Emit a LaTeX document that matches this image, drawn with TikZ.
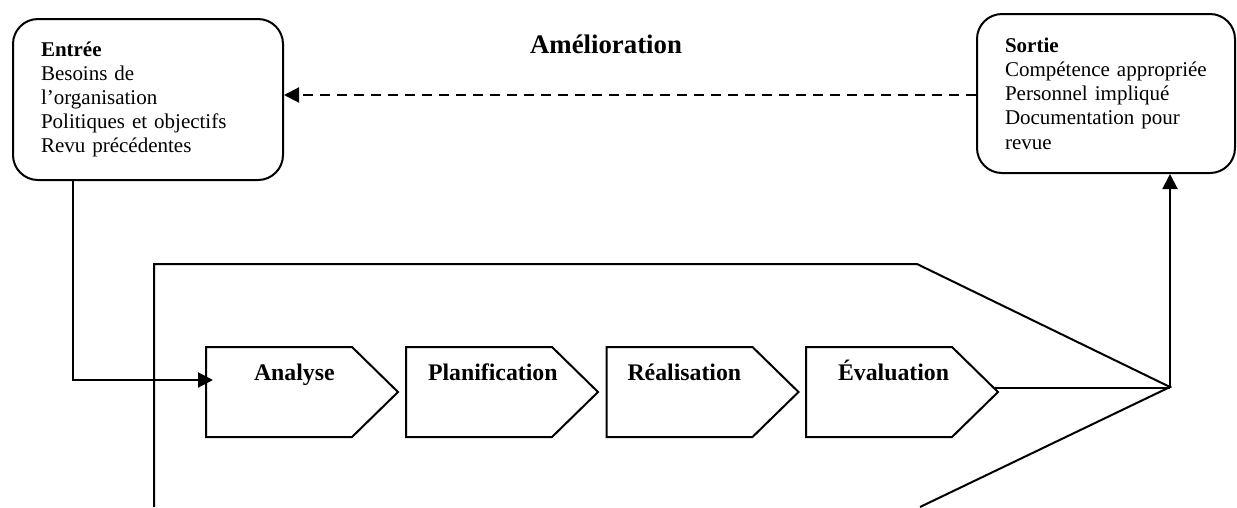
\documentclass[tikz,border=0pt]{standalone}
\usepackage{fontspec}
\setmainfont{Liberation Serif}
\usetikzlibrary{arrows.meta,calc}
\begin{document}
\begin{tikzpicture}[x=1pt,y=-1pt,line width=2pt,
  roundbox/.style={draw,rounded corners=25pt,align=left,
    font=\fontsize{21}{24.2}\selectfont,inner ysep=0pt},
  chevbox/.style={minimum width=192pt,minimum height=90pt,inner sep=0pt,outer sep=0pt},
  steplabel/.style={anchor=base west,inner sep=0pt,font=\fontsize{23.8}{26}\selectfont\bfseries},
  arrowtip/.style={-{Triangle[length=15pt,width=15pt]}}]
\useasboundingbox (0,0) rectangle (1237,507);

% input and output boxes
\node[roundbox,minimum width=270pt,minimum height=161pt,text width=214pt,inner xsep=28pt]
  (en) at (148,99.5)
  {\textbf{Entrée}\\Besoins de\\l’organisation\\Politiques et objectifs\\Revu précédentes};
\node[roundbox,minimum width=258pt,minimum height=159pt,text width=202pt,inner xsep=28pt]
  (so) at (1106,93.5)
  {\textbf{Sortie}\\Compétence appropriée\\Personnel impliqué\\Documentation pour\\revue};

% improvement loop
\node[anchor=base,inner sep=0pt,font=\fontsize{26.8}{30}\selectfont\bfseries] (am) at (606,53) {Amélioration};
\coordinate (dy) at (0,95);
\draw[arrowtip,dashed,dash pattern=on 10pt off 7pt] (so.west |- dy) -- (en.east |- dy);

% enclosing process outline
\draw (154,507) -- (154,264) -- (917,264) -- (1170,387) -- (920,507);

% process steps
\foreach \nm/\cx/\lab/\off in {an/302/Analyse/47, pl/502/Planification/21, re/702.5/Réalisation/20, ev/902/Évaluation/31}{
  \node[chevbox] (\nm) at (\cx,392) {};
  \draw (\nm.north west) -- ($(\nm.north east)+(-46,0)$) -- (\nm.east)
        -- ($(\nm.south east)+(-46,0)$) -- (\nm.south west) -- cycle;
  \node[steplabel] (\nm-t) at ($(\nm.west)+(\off,-11.5)$) {\lab};
}

% connectors
\coordinate (ent) at (73,380);
\draw[arrowtip] (ent |- en.south) -- (ent) -- ([xshift=7pt]an.west |- ent);
\coordinate (hub) at (1170,388);
\draw ([xshift=-3pt]ev.east |- hub) -- (hub);
\draw[arrowtip] (hub) -- (hub |- so.south);
\end{tikzpicture}
\end{document}
